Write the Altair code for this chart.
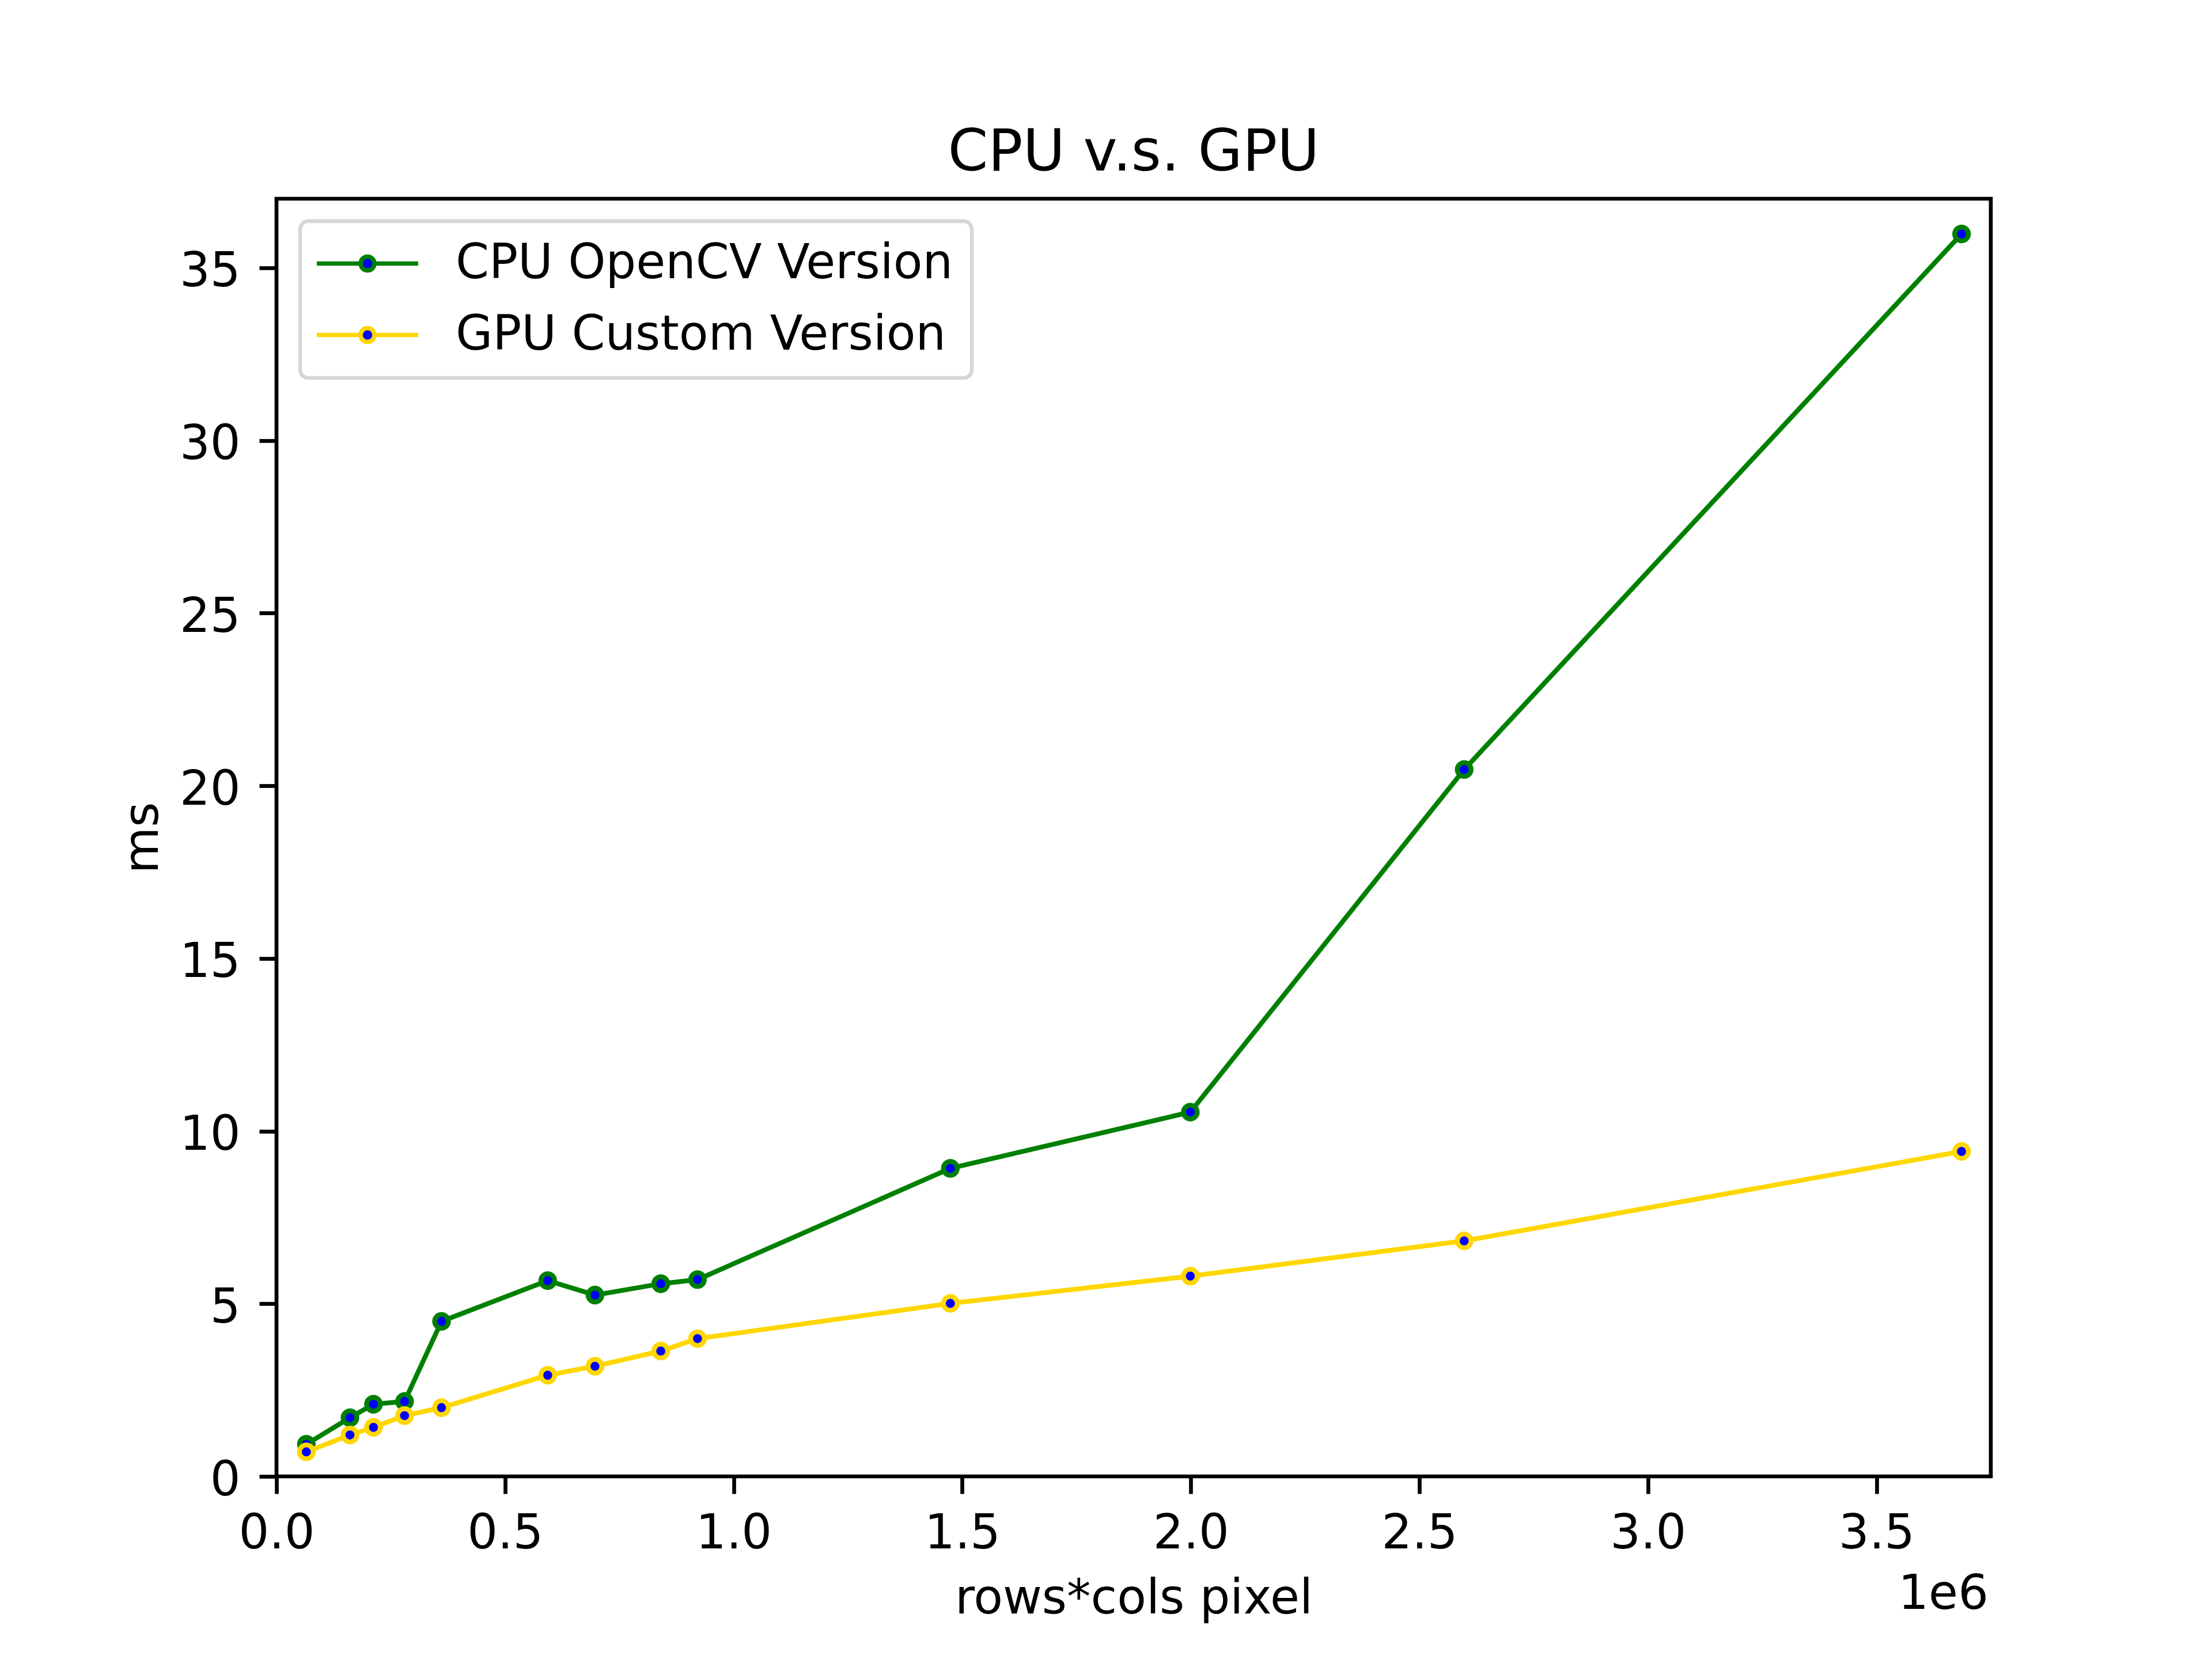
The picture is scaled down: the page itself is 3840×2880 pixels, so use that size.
import altair as alt
import pandas as pd

# ---- data ----
pixels = [65300, 160700, 212100, 280100, 361000, 593300, 696700, 840600, 921000,
          1474000, 1999000, 2598000, 3686000]
cpu_ms = [0.93, 1.70, 2.09, 2.17, 4.49, 5.67, 5.25, 5.58, 5.70, 8.92, 10.55, 20.47, 35.98]
gpu_ms = [0.71, 1.20, 1.42, 1.76, 1.99, 2.93, 3.19, 3.63, 3.99, 5.01, 5.80, 6.82, 9.41]
series_names = ["CPU OpenCV Version", "GPU Custom Version"]
series_colors = ["green", "gold"]
x_ticks = [0, 500000, 1000000, 1500000, 2000000, 2500000, 3000000, 3500000]
y_ticks = [0, 5, 10, 15, 20, 25, 30, 35]
x_domain = [0, 3750000]
y_domain = [0, 37.0]
offset_text = ["1e6"]

rows = []
for name, vals in zip(series_names, [cpu_ms, gpu_ms]):
    for p, v in zip(pixels, vals):
        rows.append({"series": name, "pixels": p, "ms": v})
df = pd.DataFrame(rows)

W, H = 2976, 2218
FONT = "DejaVu Sans"
LW = 8.33

legend_path = ("M-2.933,0H-0.4M0.4,0H2.933"
               "M-0.4,0A0.4,0.4,0,1,0,0.4,0A0.4,0.4,0,1,0,-0.4,0Z")

color_scale = alt.Scale(domain=series_names, range=series_colors)
x_enc = alt.X("pixels:Q", scale=alt.Scale(domain=x_domain, nice=False, zero=False),
              axis=alt.Axis(values=x_ticks, labelExpr="format(datum.value/1000000, '.1f')",
                            title="rows*cols pixel", titleBaseline="alphabetic",
                            titleX=W / 2, titleY=237, titleAnchor="middle",
                            labelBaseline="alphabetic", labelPadding=94,
                            labelFlush=False, labelOverlap=False))
y_enc = alt.Y("ms:Q", scale=alt.Scale(domain=y_domain, nice=False, zero=False),
              axis=alt.Axis(values=y_ticks, title="ms", titleAngle=270,
                            titleBaseline="alphabetic", titleX=-207, titleY=H / 2,
                            titleAlign="center", labelBaseline="alphabetic",
                            labelOffset=32, labelPadding=33, labelOverlap=False,
                            labelFlush=False))

legend = alt.Legend(
    orient="none", legendX=41, legendY=39, title=None,
    labelFontSize=83, labelFont=FONT, labelColor="black", labelLimit=3000,
    labelBaseline="middle",
    symbolType=legend_path, symbolSize=3600, symbolStrokeWidth=7.5,
    symbolFillColor="blue", symbolOffset=43.5, labelOffset=111.5,
    padding=32, rowPadding=40, strokeColor="#d6d6d6", fillColor="white",
    cornerRadius=14,
)

layers = []
for i, name in enumerate(series_names):
    base = alt.Chart(df).transform_filter(alt.datum.series == name)
    line = base.mark_line(strokeWidth=LW).encode(
        x=x_enc, y=y_enc,
        stroke=alt.Stroke("series:N", scale=color_scale,
                          legend=legend if i == 0 else None),
    )
    pts = base.mark_point(shape="circle", size=576, filled=True, fill="blue",
                          fillOpacity=1, opacity=1, strokeWidth=LW).encode(
        x=x_enc, y=y_enc,
        stroke=alt.Stroke("series:N", scale=color_scale, legend=None),
    )
    layers += [line, pts]

offset_label = alt.Chart(pd.DataFrame({"t": offset_text})).mark_text(
    align="right", baseline="alphabetic", fontSize=83, font=FONT, color="black"
).encode(text="t:N", x=alt.value(W - 4), y=alt.value(H + 230))
layers.append(offset_label)

chart = alt.layer(*layers).properties(
    width=W, height=H,
    title=alt.TitleParams("CPU v.s. GPU", fontSize=100, font=FONT, fontWeight="normal",
                          color="black", anchor="middle", baseline="alphabetic", offset=-51),
    padding={"left": 472, "top": 337, "right": 360, "bottom": 290},
    autosize="none",
    background="white",
).configure_view(
    stroke="black", strokeWidth=6.7
).configure_axis(
    domain=False, grid=False, ticks=True, tickSize=30, tickWidth=6.7, tickColor="black",
    labelFontSize=83, labelFont=FONT, labelColor="black",
    titleFontSize=83, titleFont=FONT, titleColor="black", titleFontWeight="normal",
).configure_legend(
    strokeWidth=6.5
)

chart.save("out.html", embed_options={"renderer": "svg", "actions": False})
